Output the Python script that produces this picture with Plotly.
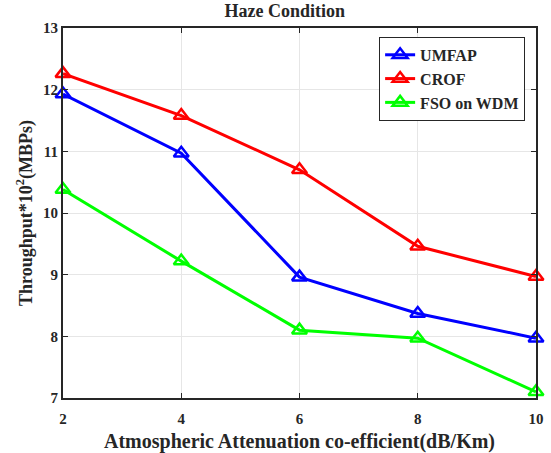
import plotly.graph_objects as go

# Attenuation coefficient (dB/Km)
attenuation = [2, 4, 6, 8, 10]

# Throughput (x10^2 MBPs) per scheme
umfap = [11.93, 10.97, 8.96, 8.37, 7.97]
crof = [12.26, 11.58, 10.70, 9.46, 8.97]
fso_wdm = [10.38, 9.22, 8.10, 7.97, 7.10]

series = [
    ("UMFAP", umfap, "#0000ff"),
    ("CROF", crof, "#ff0000"),
    ("FSO on WDM", fso_wdm, "#00ff00"),
]

FONT = "Liberation Serif"
INK = "#262626"

fig = go.Figure()
for name, vals, color in series:
    fig.add_trace(go.Scatter(
        x=attenuation, y=vals, name=name, mode="lines+markers",
        line=dict(color=color, width=3),
        marker=dict(symbol="triangle-up-open", size=13, color=color,
                    line=dict(width=2.5, color=color)),
        cliponaxis=False,
    ))

axis_common = dict(
    showline=True, linecolor=INK, linewidth=2, mirror="ticks",
    ticks="inside", ticklen=5, tickcolor=INK, tickwidth=1,
    showgrid=True, gridcolor="#e6e6e6", gridwidth=1,
    zeroline=False, automargin=False,
    tickfont=dict(family=FONT, size=15, color=INK, weight="bold"),
)

fig.update_layout(
    width=551, height=453,
    margin=dict(l=63, r=15, t=28, b=55),
    paper_bgcolor="white", plot_bgcolor="white",
    font=dict(family=FONT, color=INK),
    title=dict(text="Haze Condition", x=0.517, xanchor="center",
               y=0.99, yanchor="top",
               font=dict(family=FONT, size=18, color=INK, weight="bold")),
    xaxis=dict(range=[2, 10], tickvals=[2, 4, 6, 8, 10], ticklabelstandoff=6,
               title=dict(text="Atmospheric Attenuation co-efficient(dB/Km)",
                          font=dict(family=FONT, size=20, color=INK, weight="bold"),
                          standoff=8),
               **axis_common),
    yaxis=dict(range=[7, 13], tickvals=[7, 8, 9, 10, 11, 12, 13],
               title=dict(text="Throughput*10<sup>2</sup>(MBPs)",
                          font=dict(family=FONT, size=18, color=INK, weight="bold"),
                          standoff=6),
               **axis_common),
    legend=dict(x=0.977, xanchor="right", y=0.976, yanchor="top",
                bgcolor="white", bordercolor=INK, borderwidth=1,
                font=dict(family=FONT, size=16, color=INK, weight="bold"),
                tracegroupgap=0, itemwidth=30),
    showlegend=True,
)

fig.write_html("out.html")
